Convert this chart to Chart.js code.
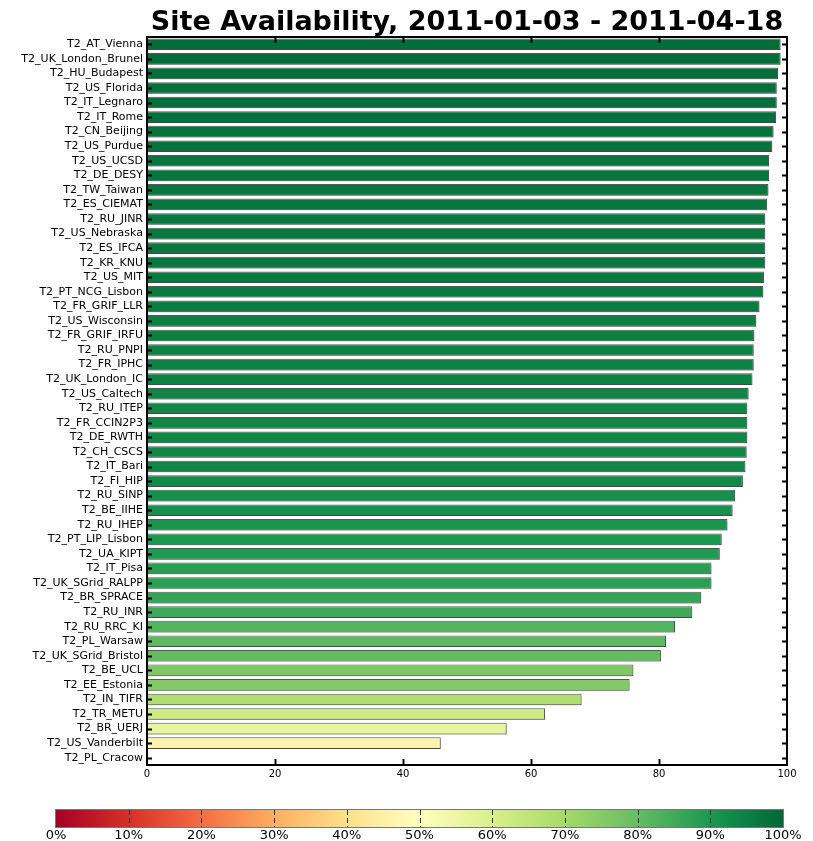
<!DOCTYPE html>
<html>
<head>
<meta charset="utf-8">
<script src="https://cdn.jsdelivr.net/npm/chart.js@4/dist/chart.umd.min.js"></script>
<style>
  body { margin: 0; background: #fff; }
  #wrap { position: relative; width: 813px; height: 841px; }
  #main { position: absolute; left: 0; top: 0; }
  #cbar { position: absolute; left: 0; top: 795px; }
</style>
</head>
<body>
<div id="wrap">
  <canvas id="main" width="813" height="785"></canvas>
  <canvas id="cbar" width="813" height="46"></canvas>
</div>
<script>
const sites = [
  "T2_AT_Vienna", "T2_UK_London_Brunel", "T2_HU_Budapest", "T2_US_Florida", "T2_IT_Legnaro",
  "T2_IT_Rome", "T2_CN_Beijing", "T2_US_Purdue", "T2_US_UCSD", "T2_DE_DESY",
  "T2_TW_Taiwan", "T2_ES_CIEMAT", "T2_RU_JINR", "T2_US_Nebraska", "T2_ES_IFCA",
  "T2_KR_KNU", "T2_US_MIT", "T2_PT_NCG_Lisbon", "T2_FR_GRIF_LLR", "T2_US_Wisconsin",
  "T2_FR_GRIF_IRFU", "T2_RU_PNPI", "T2_FR_IPHC", "T2_UK_London_IC", "T2_US_Caltech",
  "T2_RU_ITEP", "T2_FR_CCIN2P3", "T2_DE_RWTH", "T2_CH_CSCS", "T2_IT_Bari",
  "T2_FI_HIP", "T2_RU_SINP", "T2_BE_IIHE", "T2_RU_IHEP", "T2_PT_LIP_Lisbon",
  "T2_UA_KIPT", "T2_IT_Pisa", "T2_UK_SGrid_RALPP", "T2_BR_SPRACE", "T2_RU_INR",
  "T2_RU_RRC_KI", "T2_PL_Warsaw", "T2_UK_SGrid_Bristol", "T2_BE_UCL", "T2_EE_Estonia",
  "T2_IN_TIFR", "T2_TR_METU", "T2_BR_UERJ", "T2_US_Vanderbilt", "T2_PL_Cracow"
];
const availability = [
  99.0, 99.0, 98.6, 98.4, 98.4, 98.3, 97.9, 97.7, 97.2, 97.2,
  97.1, 96.9, 96.6, 96.6, 96.6, 96.6, 96.4, 96.3, 95.7, 95.2,
  94.9, 94.8, 94.8, 94.6, 94.0, 93.8, 93.8, 93.8, 93.7, 93.5,
  93.1, 91.9, 91.5, 90.7, 89.8, 89.5, 88.2, 88.2, 86.6, 85.2,
  82.5, 81.1, 80.3, 76.0, 75.4, 67.9, 62.2, 56.2, 45.9, 0
];
const xTicks = [0, 20, 40, 60, 80, 100];
const cbarTicks = [0, 10, 20, 30, 40, 50, 60, 70, 80, 90, 100];

// RdYlGn colour map stops
const rdylgn = ["#a50026", "#d73027", "#f46d43", "#fdae61", "#fee08b", "#ffffbf",
                "#d9ef8b", "#a6d96a", "#66bd63", "#1a9850", "#006837"];

function hex2rgb(h) {
  return [parseInt(h.slice(1, 3), 16), parseInt(h.slice(3, 5), 16), parseInt(h.slice(5, 7), 16)];
}
function cmap(v) {
  let t = Math.max(0, Math.min(1, v / 100)) * (rdylgn.length - 1);
  let i = Math.min(Math.floor(t), rdylgn.length - 2);
  let f = t - i;
  let a = hex2rgb(rdylgn[i]), b = hex2rgb(rdylgn[i + 1]);
  let c = a.map((x, k) => Math.round(x + (b[k] - x) * f));
  return "rgb(" + c.join(",") + ")";
}

const FONT = "'DejaVu Sans', sans-serif";

// matplotlib-like frame with inward ticks
const framePlugin = {
  id: "frame",
  beforeDatasetsDraw(chart) {
    const ctx = chart.ctx;
    ctx.save();
    ctx.shadowColor = "rgba(0,0,0,0.18)";
    ctx.shadowOffsetX = 1.5;
    ctx.shadowOffsetY = 1.5;
    ctx.shadowBlur = 0;
  },
  afterDatasetsDraw(chart) {
    const ctx = chart.ctx;
    ctx.restore();
    const a = chart.chartArea;
    const xs = chart.scales.x, ys = chart.scales.y;
    ctx.save();
    ctx.strokeStyle = "#000";
    ctx.lineWidth = 2;
    ctx.beginPath();
    ys.ticks.forEach((t, i) => {
      const y = Math.round(ys.getPixelForTick(i)) + 0.5;
      ctx.moveTo(a.left, y); ctx.lineTo(a.left + 5, y);
      ctx.moveTo(a.right, y); ctx.lineTo(a.right - 5, y);
    });
    xTicks.slice(1, -1).forEach(v => {
      const x = Math.round(xs.getPixelForValue(v)) + 0.5;
      ctx.moveTo(x, a.top); ctx.lineTo(x, a.top + 6);
      ctx.moveTo(x, a.bottom); ctx.lineTo(x, a.bottom - 6);
    });
    ctx.stroke();
    ctx.lineWidth = 2;
    ctx.strokeRect(a.left, a.top, a.right - a.left, a.bottom - a.top);
    ctx.restore();
  }
};

new Chart(document.getElementById("main").getContext("2d"), {
  type: "bar",
  data: {
    labels: sites,
    datasets: [{
      data: availability,
      backgroundColor: availability.map(cmap),
      borderColor: "rgba(45,45,45,0.8)",
      borderWidth: 1,
      borderSkipped: false,
      categoryPercentage: 1.0,
      barPercentage: 0.8
    }]
  },
  options: {
    indexAxis: "y",
    responsive: false,
    animation: false,
    layout: { padding: { left: 0, right: 26, top: 0, bottom: 0 } },
    plugins: {
      legend: { display: false },
      tooltip: { enabled: false },
      title: {
        display: true,
        fullSize: false,
        text: "Site Availability, 2011-01-03 - 2011-04-18",
        color: "#000",
        font: { family: FONT, size: 27, weight: "bold", lineHeight: 1.0 },
        padding: { top: 9, bottom: 1 }
      }
    },
    scales: {
      x: {
        type: "linear",
        min: 0,
        max: 100,
        afterBuildTicks(s) { s.ticks = xTicks.map(v => ({ value: v })); },
        afterFit(s) { s.height = 20; },
        grid: { display: false, drawTicks: false },
        border: { display: false },
        ticks: { color: "#000", padding: 3, maxRotation: 0, font: { family: FONT, size: 10 } }
      },
      y: {
        afterFit(s) { s.width = 147; },
        grid: { display: false, drawTicks: false },
        border: { display: false },
        ticks: { color: "#000", padding: 4, autoSkip: false, font: { family: FONT, size: 11 } }
      }
    }
  },
  plugins: [framePlugin]
});

// colour bar
const cbarPlugin = {
  id: "cbarFill",
  beforeDraw(chart) {
    const a = chart.chartArea, ctx = chart.ctx;
    const g = ctx.createLinearGradient(a.left, 0, a.right, 0);
    rdylgn.forEach((c, i) => g.addColorStop(i / (rdylgn.length - 1), c));
    ctx.save();
    ctx.fillStyle = g;
    ctx.fillRect(a.left, a.top, a.right - a.left, a.bottom - a.top);
    ctx.restore();
  },
  afterDraw(chart) {
    const a = chart.chartArea, ctx = chart.ctx, xs = chart.scales.x;
    ctx.save();
    // dashed separators at each inner tick
    ctx.strokeStyle = "#333";
    ctx.lineWidth = 1;
    ctx.setLineDash([5, 3]);
    ctx.beginPath();
    cbarTicks.slice(1, -1).forEach(v => {
      const x = Math.round(xs.getPixelForValue(v)) + 0.5;
      ctx.moveTo(x, a.top);
      ctx.lineTo(x, a.bottom);
    });
    ctx.stroke();
    ctx.setLineDash([]);
    ctx.strokeStyle = "#777";
    ctx.strokeRect(a.left - 0.5, a.top - 0.5, a.right - a.left + 1, a.bottom - a.top + 1);
    ctx.restore();
  }
};

new Chart(document.getElementById("cbar").getContext("2d"), {
  type: "scatter",
  data: { datasets: [] },
  options: {
    responsive: false,
    animation: false,
    layout: { padding: { left: 56, right: 30, top: 15, bottom: 0 } },
    plugins: { legend: { display: false }, tooltip: { enabled: false } },
    scales: {
      x: {
        type: "linear",
        min: 0,
        max: 100,
        afterBuildTicks(s) { s.ticks = cbarTicks.map(v => ({ value: v })); },
        afterFit(s) { s.height = 14; },
        grid: { display: false, drawTicks: false },
        border: { display: false },
        ticks: {
          color: "#000",
          padding: 1,
          maxRotation: 0,
          font: { family: FONT, size: 13 },
          callback: (v) => v + "%"
        }
      },
      y: { display: false, min: 0, max: 1 }
    }
  },
  plugins: [cbarPlugin]
});
</script>
</body>
</html>
